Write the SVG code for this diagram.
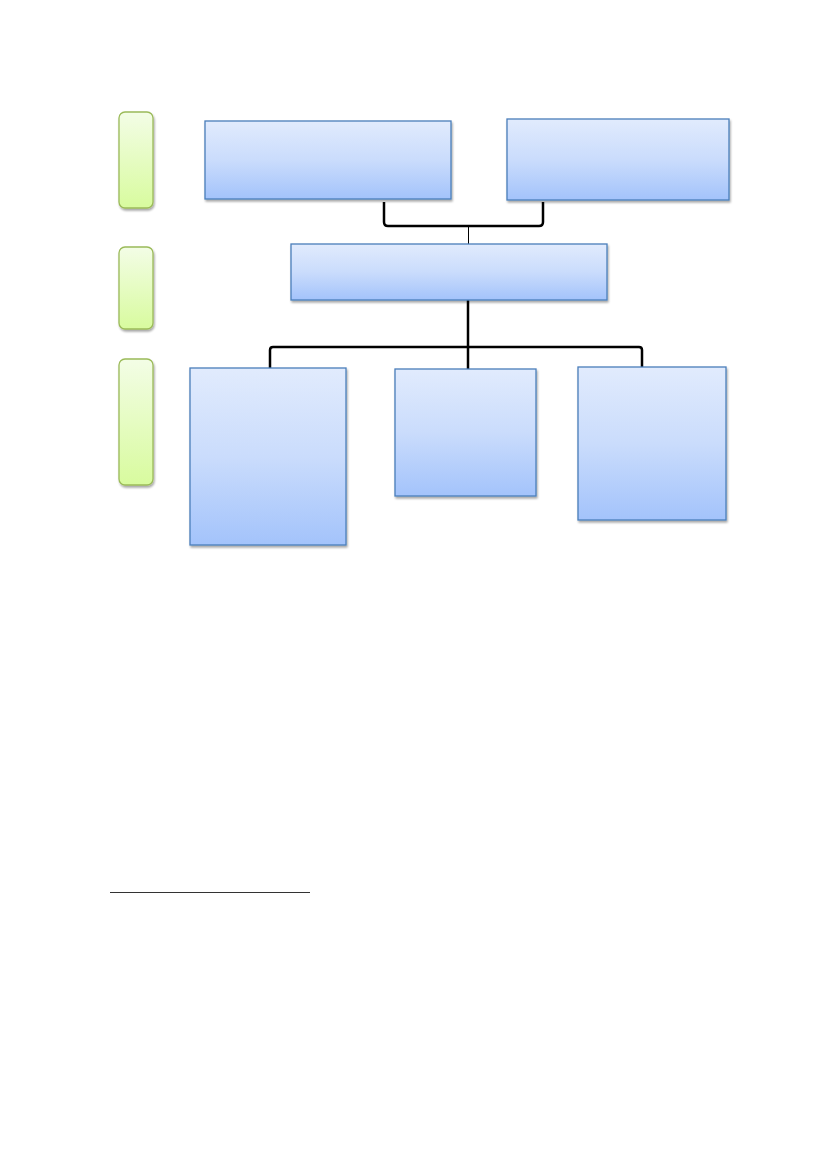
<svg xmlns="http://www.w3.org/2000/svg" width="827" height="1169" viewBox="0 0 827 1169">
<style>
.box{fill:url(#blue);stroke:#4a7ebb;stroke-width:1.3;filter:url(#sh)}
.lvl{fill:url(#green);stroke:#9bbb59;stroke-width:1.3;filter:url(#sh)}
.con{fill:none;stroke:#000;stroke-width:2.5;stroke-linejoin:round}
</style>
<defs>
<linearGradient id="blue" x1="0" y1="0" x2="0" y2="1">
<stop offset="0" stop-color="#e1ebfd"/>
<stop offset="0.5" stop-color="#cadcfc"/>
<stop offset="1" stop-color="#a3c3fb"/>
</linearGradient>
<linearGradient id="green" x1="0" y1="0" x2="0" y2="1">
<stop offset="0" stop-color="#f3fde6"/>
<stop offset="1" stop-color="#d8fb9e"/>
</linearGradient>
<filter id="sh" x="-10%" y="-10%" width="130%" height="130%">
<feGaussianBlur in="SourceAlpha" stdDeviation="1.2"/>
<feOffset dx="1" dy="2" result="b"/>
<feComponentTransfer><feFuncA type="linear" slope="0.35"/></feComponentTransfer>
<feMerge><feMergeNode/><feMergeNode in="SourceGraphic"/></feMerge>
</filter>
</defs>
<rect width="827" height="1169" fill="#fff"/>
<g id="connectors">
<path class="con" d="M384,202 V222 Q384,226 388,226 H539 Q543,226 543,222 V202"/>
<line x1="468.5" y1="226" x2="468.5" y2="244" stroke="#000" stroke-width="1"/>
<line x1="468" y1="300" x2="468" y2="370" stroke="#000" stroke-width="2.5"/>
<path class="con" d="M270,368 V350 Q270,347 273,347 H639 Q642,347 642,350 V367"/>
</g>
<g id="level1"><rect class="lvl" x="119" y="112" width="34" height="96" rx="6"/></g>
<g id="level2"><rect class="lvl" x="119" y="247" width="34" height="82" rx="6"/></g>
<g id="level3"><rect class="lvl" x="119" y="359" width="34" height="126" rx="6"/></g>
<g id="nodeA"><rect class="box" x="205" y="121" width="246" height="78"/></g>
<g id="nodeB"><rect class="box" x="507" y="119" width="222" height="81"/></g>
<g id="nodeC"><rect class="box" x="291" y="244" width="316" height="56"/></g>
<g id="nodeD"><rect class="box" x="190" y="368" width="156" height="177"/></g>
<g id="nodeE"><rect class="box" x="395" y="369" width="141" height="127"/></g>
<g id="nodeF"><rect class="box" x="578" y="367" width="148" height="153"/></g>
<line x1="110" y1="892.5" x2="310" y2="892.5" stroke="#333" stroke-width="1"/>
</svg>
